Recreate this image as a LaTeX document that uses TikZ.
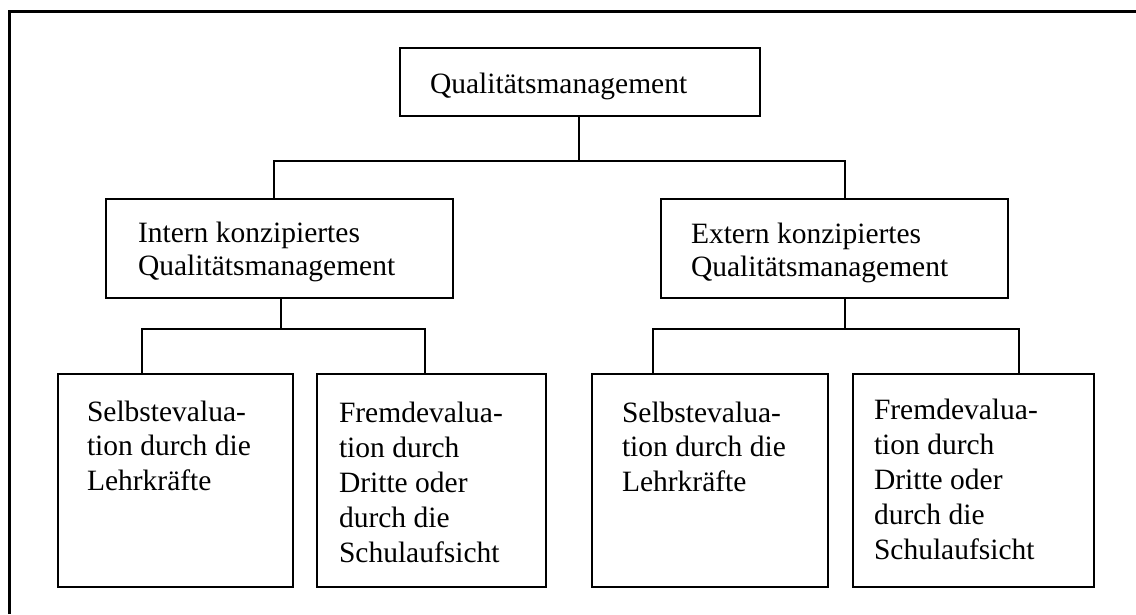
\documentclass[tikz,border=0pt]{standalone}
\usepackage{fontspec}
\setmainfont{Liberation Serif}
% left-aligned stack of lines whose baseline is that of the first line
\newcommand\linesbox[2]{\vtop{\baselineskip=#1\lineskiplimit=-100pt\lineskip=0pt\halign{##\hfil\cr#2\crcr}}}

\begin{document}
\begin{tikzpicture}[x=1pt,y=-1pt,
  box/.style={draw=black, line width=2pt, rectangle, inner sep=0pt, outer sep=0pt, anchor=north west},
  txt/.style={anchor=base west, inner sep=0pt, outer sep=0pt, text=black, font=\fontsize{29.5}{34}\selectfont},
  conn/.style={draw=black, line width=2pt},
  frameline/.style={draw=black, line width=3pt}]

\useasboundingbox (0,0) rectangle (1136,614);

% outer frame (open at right and bottom)
\draw[frameline] (9,614) -- (9,11) -- (1136,11);

% boxes
\node[box, minimum width=360pt, minimum height=68pt]  (Q)  at (400,48)  {};
\node[box, minimum width=347pt, minimum height=99pt]  (I)  at (106,199) {};
\node[box, minimum width=347pt, minimum height=99pt]  (E)  at (661,199) {};
\node[box, minimum width=235pt, minimum height=213pt] (B1) at (58,374)  {};
\node[box, minimum width=229pt, minimum height=213pt] (B2) at (317,374) {};
\node[box, minimum width=236pt, minimum height=213pt] (B3) at (592,374) {};
\node[box, minimum width=241pt, minimum height=213pt] (B4) at (853,374) {};

% texts
\node[txt] (tQ) at (430,93)  {Qualitätsmanagement};
\node[txt] (tI) at (138,242) {\linesbox{33.5pt}{Intern konzipiertes\cr Qualitätsmanagement}};
\node[txt] (tE) at (691,243) {\linesbox{33.5pt}{Extern konzipiertes\cr Qualitätsmanagement}};
\node[txt] (t1) at (87,421)  {\linesbox{34.5pt}{Selbstevalua-\cr tion durch die\cr Lehrkräfte}};
\node[txt] (t2) at (339,422) {\linesbox{35pt}{Fremdevalua-\cr tion durch\cr Dritte oder\cr durch die\cr Schulaufsicht}};
\node[txt] (t3) at (622,422) {\linesbox{34.5pt}{Selbstevalua-\cr tion durch die\cr Lehrkräfte}};
\node[txt] (t4) at (874,419) {\linesbox{35pt}{Fremdevalua-\cr tion durch\cr Dritte oder\cr durch die\cr Schulaufsicht}};

% bus points
\coordinate (qb) at (579,161);
\coordinate (ql) at (274,161);
\coordinate (qr) at (845,161);
\coordinate (ib) at (281,329);
\coordinate (il) at (142,329);
\coordinate (ir) at (425,329);
\coordinate (eb) at (845,329);
\coordinate (el) at (653,329);
\coordinate (er) at (1019,329);

% connectors
\draw[conn] (Q.south -| qb) -- (qb);
\draw[conn] (I.north -| ql) -- (ql) -- (qr) -- (E.north -| qr);

\draw[conn] (I.south -| ib) -- (ib);
\draw[conn] (B1.north -| il) -- (il) -- (ir) -- (B2.north -| ir);

\draw[conn] (E.south -| eb) -- (eb);
\draw[conn] (B3.north -| el) -- (el) -- (er) -- (B4.north -| er);

\end{tikzpicture}
\end{document}
